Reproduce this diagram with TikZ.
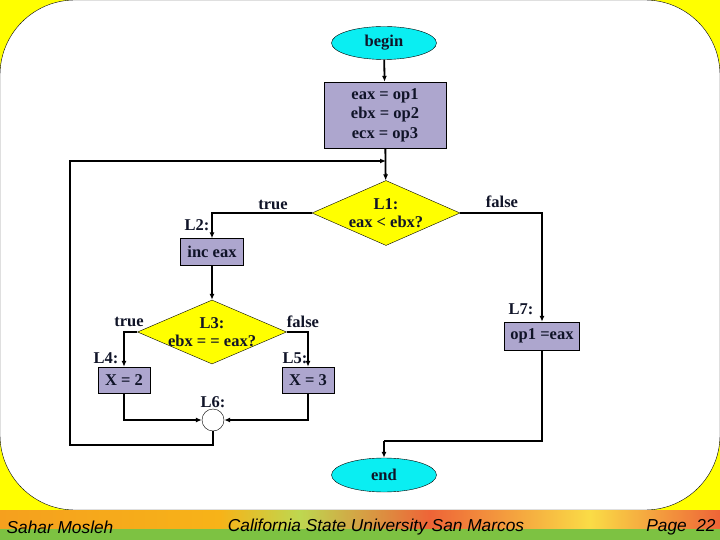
\documentclass[tikz,border=0pt]{standalone}
\usepackage{fontspec}
\setmainfont{Liberation Serif}
\newfontfamily\footfont{Liberation Sans}
\usetikzlibrary{shapes.geometric, positioning, arrows.meta}

\definecolor{boxpurple}{RGB}{173,166,206}
\definecolor{termcyan}{RGB}{10,238,242}
\definecolor{slideyellow}{RGB}{255,255,0}
\definecolor{barorange}{RGB}{245,160,30}
\definecolor{barlime}{RGB}{190,215,80}
\definecolor{barred}{RGB}{238,100,55}
\definecolor{bargold}{RGB}{250,220,70}
\definecolor{bargreen}{RGB}{125,194,66}
\definecolor{inkblue}{RGB}{16,20,40}

\begin{document}
\begin{tikzpicture}[
        x=1pt, y=-1pt,
        every node/.style={font=\fontsize{16.5}{19.5}\selectfont\bfseries, text=inkblue},
        terminal/.style={
            ellipse,
            draw,
            thin,
            fill=termcyan,
            minimum width=105pt,
            minimum height=33pt,
            inner sep=0pt
        },
        stepbox/.style={
            rectangle,
            draw,
            thin,
            fill=boxpurple,
            align=center,
            inner sep=0pt
        },
        decision/.style={
            diamond,
            draw,
            thin,
            fill=slideyellow,
            align=center,
            aspect=2.3,
            minimum width=148pt,
            minimum height=65pt,
            inner sep=-8pt
        },
        joint/.style={circle, draw, thin, fill=white, minimum size=22pt, inner sep=0pt},
        tag/.style={inner sep=1pt},
        arrow/.style={-{Latex[length=6pt, width=5pt]}, line width=1.8pt, draw=black},
        wire/.style={line width=1.8pt, draw=black}
    ]

    \useasboundingbox (0,0) rectangle (720,540);

    % --- Slide background ---
    \fill[slideyellow] (0,0) rectangle (720,512);
    \filldraw[fill=white, draw=black, thin, rounded corners=75pt] (0,0) rectangle (720,510);
    \shade[left color=barorange, right color=barorange!80!yellow] (0,510) rectangle (220,530);
    \shade[left color=barorange!80!yellow, right color=barlime] (220,510) rectangle (300,530);
    \shade[left color=barlime, right color=barred] (300,510) rectangle (430,530);
    \shade[left color=barred, right color=bargold] (430,510) rectangle (590,530);
    \shade[left color=bargold, right color=barred] (590,510) rectangle (720,530);
    \fill[bargreen] (0,529) rectangle (720,540);

    % --- Footer ---
    \node[font=\footfont\itshape\fontsize{17.3}{19}\selectfont, text=black] (author) at (60,527) {Sahar Mosleh};
    \node[font=\footfont\itshape\fontsize{17.3}{19}\selectfont, text=black] (school) at (376,527) {California State University San Marcos};
    \node[font=\footfont\itshape\fontsize{17.3}{19}\selectfont, text=black] (page) at (681,527) {Page\ \ 22};

    % --- Nodes ---
    \node[terminal] (begin) at (384,43) {begin};
    \node[stepbox, minimum width=122pt, minimum height=66pt] (init) at (385,115)
        {eax = op1\\ebx = op2\\ecx = op3};
    \node[decision] (l1) at (386,213) {L1:\\[-2pt]eax < ebx?};
    \node[stepbox, minimum width=63pt, minimum height=27pt] (inc) at (212,252) {inc eax};
    \node[decision, minimum width=149pt, minimum height=64pt] (l3) at (212,332) {L3:\\[-2pt]ebx = = eax?};
    \node[stepbox, minimum width=52pt, minimum height=26pt] (xtwo) at (124,380) {X = 2};
    \node[stepbox, minimum width=52pt, minimum height=26pt] (xthree) at (308,380) {X = 3};
    \node[joint] (join) at (213,420) {};
    \node[stepbox, minimum width=75pt, minimum height=28pt] (store) at (542,336) {op1 =eax};
    \node[terminal, minimum height=34pt] (end) at (384,475) {end};

    % labels
    \node[tag] (lbltwo) at (197,225) {L2:};
    \node[tag] (lblfour) at (106,358) {L4:};
    \node[tag] (lblfive) at (295,358) {L5:};
    \node[tag] (lblsix) at (213,402) {L6:};
    \node[tag] (lblseven) at (521,309) {L7:};
    \node[tag] (trueone) at (273,205) {true};
    \node[tag] (falseone) at (502,202) {false};
    \node[tag] (truethree) at (129,322) {true};
    \node[tag] (falsethree) at (303,322) {false};

    \coordinate (merge) at (386,161);
    \coordinate (loopturn) at (70,445);
    \coordinate (endturn) at (384,441);

    % --- Arrows ---
    \draw[arrow] (begin) -- (init);
    \draw[arrow] (init) -- (l1);
    \draw[arrow] (l1.west) -| (inc.north);
    \draw[arrow] (l1.east) -| (store.north);
    \draw[arrow] (inc) -- (l3);
    \draw[arrow] (l3.west) -| (xtwo.north);
    \draw[arrow] (l3.east) -| (xthree.north);
    \draw[arrow] (xtwo.south) |- (join.west);
    \draw[arrow] (xthree.south) |- (join.east);
    \draw[arrow] (join.south) |- (loopturn) |- (merge);
    \draw[wire] (store.south) |- (endturn);
    \draw[arrow] (endturn) -- (end.north);

\end{tikzpicture}
\end{document}
